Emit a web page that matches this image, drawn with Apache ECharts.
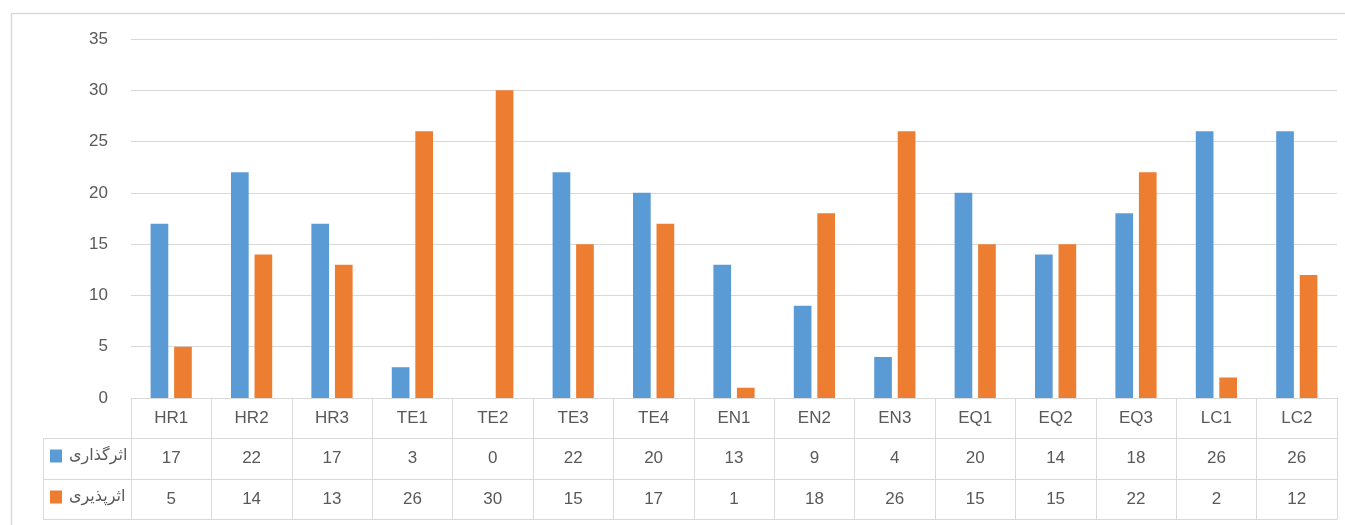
<!DOCTYPE html>
<html>
<head>
<meta charset="utf-8">
<script src="https://cdn.jsdelivr.net/npm/echarts@6/dist/echarts.min.js"></script>
<style>
  html, body { margin: 0; padding: 0; background: #ffffff; }
  #chart { width: 1345px; height: 525px; }
</style>
</head>
<body>
<div id="chart"></div>
<script>
// Indicator codes along the horizontal axis
const categories = ['HR1', 'HR2', 'HR3', 'TE1', 'TE2', 'TE3', 'TE4', 'EN1', 'EN2', 'EN3', 'EQ1', 'EQ2', 'EQ3', 'LC1', 'LC2'];
// Series names
const nameInfluence = 'اثرگذاری';
const nameInfluenced = 'اثرپذیری';
// Series values
const influenceValues = [17, 22, 17, 3, 0, 22, 20, 13, 9, 4, 20, 14, 18, 26, 26];
const influencedValues = [5, 14, 13, 26, 30, 15, 17, 1, 18, 26, 15, 15, 22, 2, 12];
// Value axis ticks
const yTicks = [0, 5, 10, 15, 20, 25, 30, 35];

const textColor = '#595959';
const lineColor = '#d9d9d9';
const baseFont = 'Liberation Sans, Arial, sans-serif';

const chart = echarts.init(document.getElementById('chart'), null, { renderer: 'canvas' });

// One category axis per row of the data table under the plot
function tableRowAxis(offset, tickLen, formatter, showLabel) {
  return {
    type: 'category',
    data: categories,
    position: 'bottom',
    offset: offset,
    boundaryGap: true,
    axisLine: { show: true, lineStyle: { color: lineColor, width: 1 } },
    axisTick: { show: tickLen > 0, length: tickLen, interval: 0, lineStyle: { color: lineColor, width: 1 } },
    axisLabel: {
      show: showLabel,
      interval: 0,
      margin: 12,
      color: textColor,
      fontSize: 17,
      fontFamily: baseFont,
      formatter: formatter
    },
    splitLine: { show: false }
  };
}

function legendRow(name, top) {
  return {
    data: [name],
    orient: 'vertical',
    left: 50, top: top,
    padding: 0,
    itemWidth: 12, itemHeight: 13,
    itemGap: 0,
    icon: 'rect',
    textStyle: { color: textColor, fontSize: 16, fontFamily: 'DejaVu Sans, sans-serif', padding: [0, 0, 0, 2] },
    selectedMode: false
  };
}

const option = {
  backgroundColor: '#ffffff',
  animation: false,
  color: ['#5b9bd5', '#ed7d31'],
  grid: { left: 131, right: 8, top: 39, bottom: 127, containLabel: false },
  legend: [
    legendRow(nameInfluence, 448),
    legendRow(nameInfluenced, 489)
  ],
  xAxis: [
    tableRowAxis(0, 40, (v) => v, true),
    tableRowAxis(40, 41, (v, i) => String(influenceValues[i]), true),
    tableRowAxis(81, 40, (v, i) => String(influencedValues[i]), true),
    tableRowAxis(121, 0, () => '', false)
  ],
  yAxis: {
    type: 'value',
    min: yTicks[0],
    max: yTicks[yTicks.length - 1],
    interval: yTicks[1] - yTicks[0],
    axisLine: { show: false },
    axisTick: { show: false },
    axisLabel: { color: textColor, fontSize: 17, fontFamily: baseFont, margin: 23 },
    splitLine: { lineStyle: { color: lineColor, width: 1 } }
  },
  series: [
    {
      name: nameInfluence,
      type: 'bar',
      data: influenceValues,
      barWidth: '22%',
      barGap: '33%'
    },
    {
      name: nameInfluenced,
      type: 'bar',
      data: influencedValues,
      barWidth: '22%',
      barGap: '33%'
    }
  ],
  graphic: [
    // outer chart frame
    { type: 'rect', shape: { x: 11.5, y: 13.5, width: 1400, height: 600 }, style: { fill: null, stroke: lineColor, lineWidth: 1.5 }, silent: true },
    // legend column of the data table
    { type: 'line', shape: { x1: 43, y1: 438.5, x2: 131, y2: 438.5 }, style: { stroke: lineColor, lineWidth: 1 }, silent: true },
    { type: 'line', shape: { x1: 43, y1: 479.5, x2: 131, y2: 479.5 }, style: { stroke: lineColor, lineWidth: 1 }, silent: true },
    { type: 'line', shape: { x1: 43, y1: 519.5, x2: 131, y2: 519.5 }, style: { stroke: lineColor, lineWidth: 1 }, silent: true },
    { type: 'line', shape: { x1: 43.5, y1: 438, x2: 43.5, y2: 520 }, style: { stroke: lineColor, lineWidth: 1 }, silent: true }
  ]
};

chart.setOption(option);
</script>
</body>
</html>
